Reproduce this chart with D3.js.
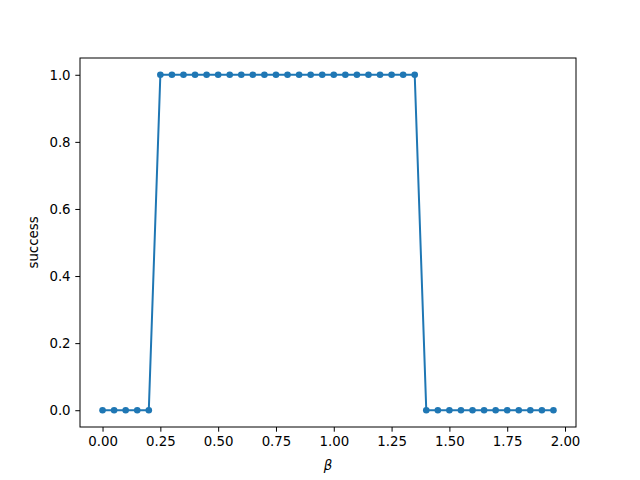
<!DOCTYPE html>
<html>
<head>
<meta charset="utf-8">
<script src="https://cdn.jsdelivr.net/npm/d3@7"></script>
<style>
  body { margin: 0; background: #fff; }
  text { font-family: "DejaVu Sans", sans-serif; font-size: 13.33px; fill: #000; }
</style>
</head>
<body>
<div id="chart"></div>
<script>
// data
var betas = [0.00, 0.05, 0.10, 0.15, 0.20, 0.25, 0.30, 0.35, 0.40, 0.45,
             0.50, 0.55, 0.60, 0.65, 0.70, 0.75, 0.80, 0.85, 0.90, 0.95,
             1.00, 1.05, 1.10, 1.15, 1.20, 1.25, 1.30, 1.35, 1.40, 1.45,
             1.50, 1.55, 1.60, 1.65, 1.70, 1.75, 1.80, 1.85, 1.90, 1.95];
var success = [0, 0, 0, 0, 0, 1, 1, 1, 1, 1,
               1, 1, 1, 1, 1, 1, 1, 1, 1, 1,
               1, 1, 1, 1, 1, 1, 1, 1, 0, 0,
               0, 0, 0, 0, 0, 0, 0, 0, 0, 0];
var xTicks = [0.00, 0.25, 0.50, 0.75, 1.00, 1.25, 1.50, 1.75, 2.00];
var yTicks = [0.0, 0.2, 0.4, 0.6, 0.8, 1.0];

var width = 640, height = 480;
var margin = {top: 58, right: 64, bottom: 53, left: 80};
var w = width - margin.left - margin.right,
    h = height - margin.top - margin.bottom;

var svg = d3.select("#chart").append("svg")
  .attr("width", width)
  .attr("height", height);

var g = svg.append("g")
  .attr("transform", "translate(" + margin.left + "," + margin.top + ")");

var xMin = d3.min(betas), xMax = d3.max(betas), xPad = (xMax - xMin) * 0.05;
var x = d3.scaleLinear().domain([xMin - xPad, xMax + xPad]).range([0, w]);
var y = d3.scaleLinear().domain([-0.05, 1.05]).range([h, 0]);

var data = betas.map(function (b, i) { return {b: b, s: success[i]}; });

var line = d3.line()
  .x(function (d) { return x(d.b); })
  .y(function (d) { return y(d.s); });

g.append("path")
  .datum(data)
  .attr("fill", "none")
  .attr("stroke", "#1f77b4")
  .attr("stroke-width", 2)
  .attr("stroke-linejoin", "round")
  .attr("stroke-linecap", "square")
  .attr("d", line);

g.selectAll("circle.pt")
  .data(data)
  .enter().append("circle")
  .attr("class", "pt")
  .attr("cx", function (d) { return x(d.b); })
  .attr("cy", function (d) { return y(d.s); })
  .attr("r", 3.3)
  .attr("fill", "#1f77b4");

var xAxis = g.append("g")
  .attr("transform", "translate(0," + h + ")")
  .call(d3.axisBottom(x).tickValues(xTicks).tickFormat(d3.format(".2f")).tickSizeOuter(0).tickSize(4.7).tickPadding(4.7));

var yAxis = g.append("g")
  .call(d3.axisLeft(y).tickValues(yTicks).tickFormat(d3.format(".1f")).tickSizeOuter(0).tickSize(4.7).tickPadding(4.7));

[xAxis, yAxis].forEach(function (a) {
  a.select(".domain").remove();
  a.selectAll("line").attr("stroke", "#000").attr("stroke-width", 1);
  a.selectAll("text").attr("font-family", "DejaVu Sans, sans-serif").attr("font-size", 13.33).attr("fill", "#000");
});

// frame
g.append("rect")
  .attr("x", 0).attr("y", 0)
  .attr("width", w).attr("height", h)
  .attr("fill", "none")
  .attr("stroke", "#000")
  .attr("stroke-width", 1);

g.append("text")
  .attr("x", w / 2)
  .attr("y", h + 43)
  .attr("text-anchor", "middle")
  .style("font-style", "italic")
  .text("β");

g.append("text")
  .attr("transform", "translate(-42," + (h / 2) + ") rotate(-90)")
  .attr("text-anchor", "middle")
  .text("success");
</script>
</body>
</html>
